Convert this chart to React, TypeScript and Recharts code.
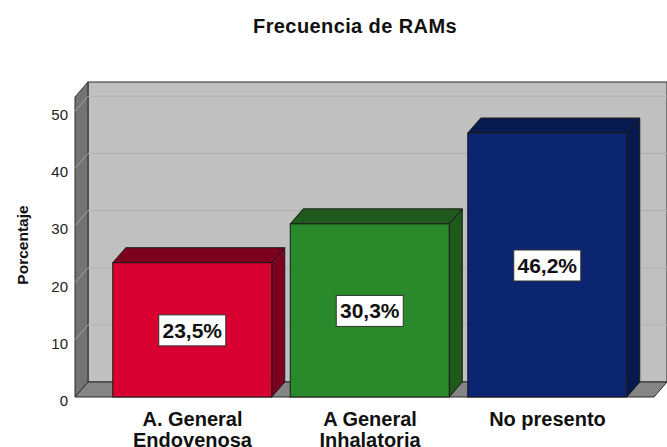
import { Bar, BarChart, Cell, LabelList, ReferenceArea, ReferenceLine, XAxis, YAxis } from 'recharts';

const categories = ['A. General\nEndovenosa', 'A General\nInhalatoria', 'No presento'];
const percentages = [23.5, 30.3, 46.2];
const frontColors = ['#d70031', '#2a8a2b', '#0b2570'];
const darkColors = ['#7e001f', '#1d5a1c', '#061a4d'];
const yTicks = [0, 10, 20, 30, 40, 50];
const xTicks = [0, 1, 2];

const data = categories.map((name, i) => ({ pos: i, name, value: percentages[i] }));

const FONT = '"Liberation Sans", Arial, sans-serif';
// desplazamiento de la profundidad 3D
const DX = 13;
const DY = -15;

// paredes y suelo del gráfico 3D
const Walls = (props: any) => {
  const { x, y, width, height } = props;
  const b = y + height;
  return (
    <g>
      <rect x={x + DX} y={y + DY} width={width} height={height} fill="#c0c0c0" stroke="#2b2b2b" strokeWidth={1} />
      <polygon
        points={`${x},${y} ${x + DX},${y + DY} ${x + DX},${b + DY} ${x},${b}`}
        fill="#737373"
        stroke="#2b2b2b"
        strokeWidth={1}
      />
      <polygon
        points={`${x},${b} ${x + DX},${b + DY} ${x + width + DX},${b + DY} ${x + width},${b}`}
        fill="#858585"
        stroke="#2b2b2b"
        strokeWidth={1}
      />
    </g>
  );
};

const GridLine = (props: any) => {
  const { x1, y1, x2 } = props;
  return (
    <g>
      <line x1={x1} y1={y1} x2={x1 + DX} y2={y1 + DY} stroke="#a3a3a3" strokeWidth={1} />
      <line x1={x1 + DX} y1={y1 + DY} x2={x2 + DX} y2={y1 + DY} stroke="#b0b0b0" strokeWidth={1} />
    </g>
  );
};

const Bar3D = (props: any) => {
  const { x, y, width, height, index } = props;
  const r = x + width;
  const b = y + height;
  const dark = darkColors[index];
  return (
    <g>
      <polygon points={`${r},${y} ${r + DX},${y + DY} ${r + DX},${b + DY} ${r},${b}`} fill={dark} stroke="#1a1a1a" strokeWidth={1} />
      <polygon points={`${x},${y} ${x + DX},${y + DY} ${r + DX},${y + DY} ${r},${y}`} fill={dark} stroke="#1a1a1a" strokeWidth={1} />
      <rect x={x} y={y} width={width} height={height} fill={frontColors[index]} stroke="#1a1a1a" strokeWidth={1} />
    </g>
  );
};

const ValueLabel = (props: any) => {
  const { x, y, width, height, value } = props;
  const cx = x + width / 2;
  const cy = y + height / 2;
  const text = `${value.toFixed(1).replace('.', ',')}%`;
  return (
    <g>
      <rect x={cx - 33.5} y={cy - 15} width={67} height={31} fill="#ffffff" stroke="#333333" strokeWidth={1} />
      <text x={cx} y={cy + 8} textAnchor="middle" fontFamily={FONT} fontSize={21} fontWeight="bold" fill="#111111">
        {text}
      </text>
    </g>
  );
};

const CategoryTick = (props: any) => {
  const { x, y, payload } = props;
  const lines = String(categories[payload.value] ?? '').split('\n');
  return (
    <text x={x} y={y + 21} textAnchor="middle" fontFamily={FONT} fontSize={20} fontWeight="bold" fill="#111111">
      {lines.map((line, i) => (
        <tspan key={i} x={x} dy={i === 0 ? 0 : 21}>
          {line}
        </tspan>
      ))}
    </text>
  );
};

export default function App() {
  return (
    <div style={{ position: 'absolute', left: 0, top: 0, width: 667, height: 447, overflow: 'hidden', background: '#ffffff' }}>
      <div
        style={{
          position: 'absolute',
          left: 155,
          top: 15,
          width: 400,
          textAlign: 'center',
          fontFamily: FONT,
          fontSize: 20,
          fontWeight: 'bold',
          letterSpacing: 0.4,
          lineHeight: '22px',
          color: '#111111',
        }}
      >
        Frecuencia de RAMs
      </div>
      <div style={{ position: 'absolute', left: 0, top: 0 }}>
        <BarChart width={667} height={447} data={data} margin={{ top: 97, right: 13, bottom: 0, left: 0 }} barSize={159}>
          <XAxis
            dataKey="pos"
            type="number"
            domain={[-0.662, 2.6]}
            ticks={xTicks}
            height={50}
            axisLine={false}
            tickLine={false}
            tick={<CategoryTick />}
            interval={0}
          />
          <YAxis
            width={75}
            domain={[0, 52.5]}
            ticks={yTicks}
            axisLine={false}
            tickLine={false}
            tickSize={0}
            tickMargin={7}
            tick={{ fontFamily: FONT, fontSize: 15, fill: '#222222', dy: 3.5 }}
            label={{
              value: 'Porcentaje',
              content: () => (
                <text
                  x={28}
                  y={245}
                  transform="rotate(-90 28 245)"
                  textAnchor="middle"
                  fontFamily={FONT}
                  fontSize={15.5}
                  fontWeight="bold"
                  fill="#111111"
                >
                  Porcentaje
                </text>
              ),
            }}
          />
          <ReferenceArea y1={0} y2={52.5} shape={<Walls />} ifOverflow="visible" zIndex={50} />
          {yTicks.slice(1).map((t) => (
            <ReferenceLine key={t} y={t} shape={<GridLine />} ifOverflow="visible" zIndex={60} />
          ))}
          <Bar dataKey="value" shape={<Bar3D />} isAnimationActive={false}>
            {data.map((d, i) => (
              <Cell key={d.name} fill={frontColors[i]} />
            ))}
            <LabelList dataKey="value" content={<ValueLabel />} />
          </Bar>
        </BarChart>
      </div>
    </div>
  );
}
